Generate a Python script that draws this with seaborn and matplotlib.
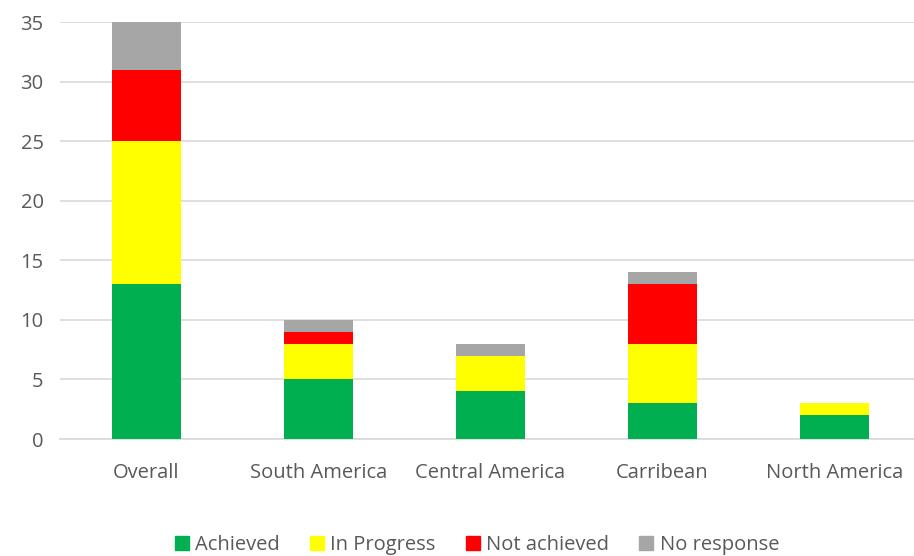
import matplotlib
matplotlib.use("Agg")
import matplotlib.pyplot as plt
import matplotlib.patches as mpatches
import seaborn as sns
import pandas as pd
import numpy as np

# Data
regions = ["Overall", "South America", "Central America", "Carribean", "North America"]
achieved = [13, 5, 4, 3, 2]
in_progress = [12, 3, 3, 5, 1]
not_achieved = [6, 1, 0, 5, 0]
no_response = [4, 1, 1, 1, 0]

series = ["Achieved", "In Progress", "Not achieved", "No response"]
colors = ["#00b050", "#ffff00", "#ff0000", "#a6a6a6"]

df = pd.DataFrame({
    "Region": regions,
    "Achieved": achieved,
    "In Progress": in_progress,
    "Not achieved": not_achieved,
    "No response": no_response,
})

# cumulative sums so that the bars can be drawn on top of each other
cum = df[series].cumsum(axis=1)

sns.set_style("white")
plt.rcParams["font.family"] = ["Open Sans", "DejaVu Sans"]

fig = plt.figure(figsize=(9.14, 5.56), dpi=100)
ax = fig.add_axes([0.066, 0.2104, 0.941, 0.75])

# draw the tallest layer first, then each lower layer over it
for name, color in reversed(list(zip(series, colors))):
    sns.barplot(
        x=df["Region"],
        y=cum[name],
        color=color,
        width=0.4,
        saturation=1,
        linewidth=0,
        edgecolor="none",
        ax=ax,
        zorder=3,
    )

ax.set_ylim(0, 35)
ax.set_xlim(-0.5, 4.5)
ax.set_yticks(np.arange(0, 36, 5))
ax.yaxis.grid(True, color="#d9d9d9", linewidth=1.2, zorder=0)
ax.set_axisbelow(True)
for s in ["top", "right", "left"]:
    ax.spines[s].set_visible(False)
ax.spines["bottom"].set_color("#d9d9d9")
ax.spines["bottom"].set_linewidth(1.2)
ax.tick_params(axis="both", length=0, labelsize=14.5, labelcolor="#595959")
ax.tick_params(axis="x", pad=17)
ax.tick_params(axis="y", pad=12)
ax.set_xlabel("")
ax.set_ylabel("")

handles = [mpatches.Patch(color=c, label=s) for s, c in zip(series, colors)]
fig.legend(
    handles=handles,
    loc="center",
    bbox_to_anchor=(0.522, 0.019),
    ncol=4,
    frameon=False,
    fontsize=14.5,
    handlelength=0.7,
    handleheight=0.7,
    handletextpad=0.3,
    columnspacing=1.5,
    labelcolor="#595959",
)

fig.savefig("out.png", dpi=100)
